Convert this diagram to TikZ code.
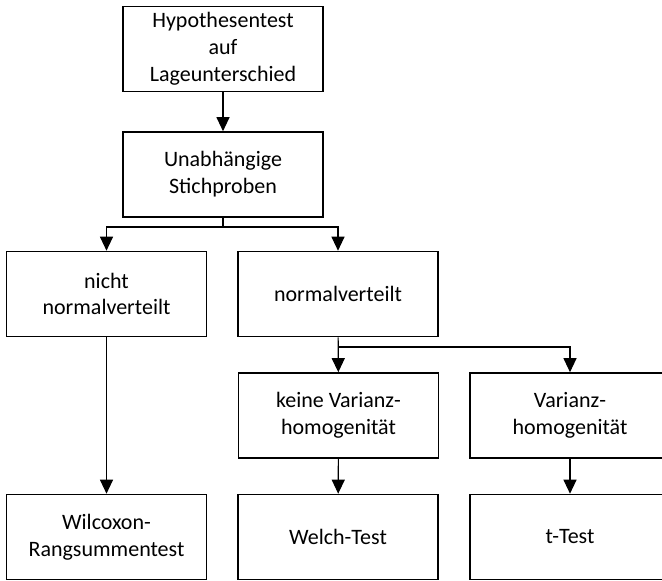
\documentclass[tikz,border=0pt]{standalone}
\usepackage{fontspec}
\setmainfont{Carlito}
\usetikzlibrary{arrows.meta}

\begin{document}
\begin{tikzpicture}[x=0.5pt, y=-0.5pt, >={Triangle[length=7pt, width=6.5pt]},
    box/.style={draw, line width=0.8pt, minimum width=100pt, minimum height=42.5pt,
        align=center, inner sep=2pt, font=\fontsize{11}{13.4}\selectfont},
    link/.style={->, line width=0.55pt}]
    \useasboundingbox (0,0) rectangle (662,581);
    \clip (0,0) rectangle (662,581);

    % Nodes
    \node[box] (hypo) at (223,49) {Hypothesentest\\auf\\Lageunterschied};
    \node[box] (unab) at (223,174.5) {Unabhängige\\Stichproben};
    \node[box] (nicht) at (106.5,294) {nicht\\normalverteilt};
    \node[box] (normal) at (338,294) {normalverteilt};
    \node[box] (keine) at (338.5,415.5) {keine Varianz-\\homogenität};
    \node[box] (homog) at (570,415.5) {Varianz-\\homogenität};
    \node[box] (wilc) at (106.5,537) {Wilcoxon-\\Rangsummentest};
    \node[box] (welch) at (338,537) {Welch-Test};
    \node[box] (ttest) at (570,537) {t-Test};

    % Branch points
    \coordinate (split1) at (223,227);
    \coordinate (split2) at (338,347);

    % Arrows
    \draw[link] (hypo) -- (unab);
    \draw[line width=0.55pt] (unab) -- (split1);
    \draw[link] (split1) -| (nicht);
    \draw[link] (split1) -| (normal);
    \draw[link] (normal) -- (keine);
    \draw[link] (split2) -| (homog);
    \draw[link] (nicht) -- (wilc);
    \draw[link] (keine) -- (welch);
    \draw[link] (homog) -- (ttest);
\end{tikzpicture}
\end{document}
